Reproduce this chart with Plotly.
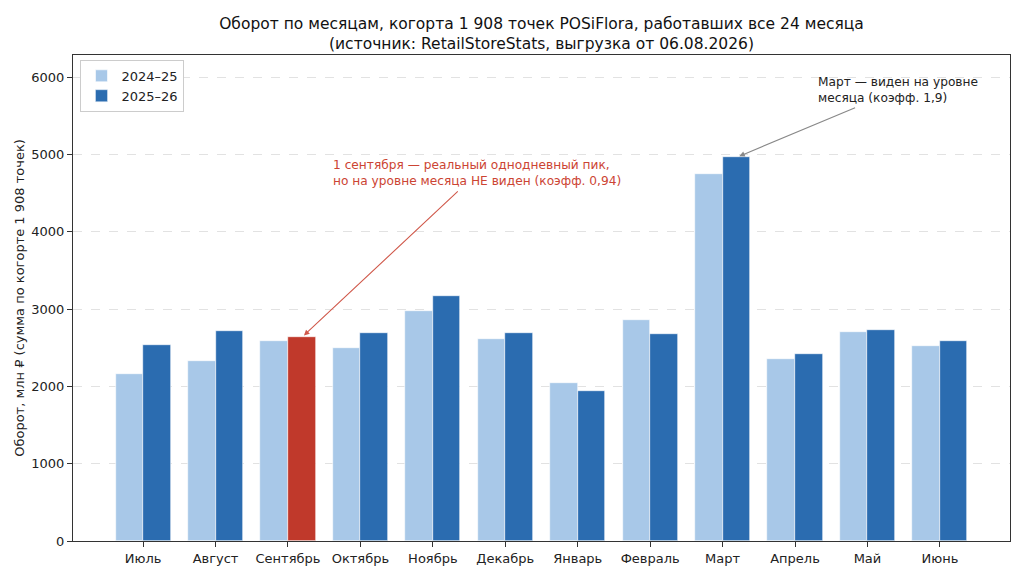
import plotly.graph_objects as go

months = ["Июль", "Август", "Сентябрь", "Октябрь", "Ноябрь", "Декабрь",
          "Январь", "Февраль", "Март", "Апрель", "Май", "Июнь"]
prev_year = [2156, 2329, 2591, 2493, 2975, 2613, 2040, 2863, 4744, 2351, 2700, 2519]
curr_year = [2535, 2721, 2639, 2687, 3165, 2687, 1940, 2674, 4968, 2415, 2726, 2583]
series_names = ["2024–25", "2025–26"]
highlight_month = "Сентябрь"
y_ticks = [0, 1000, 2000, 3000, 4000, 5000, 6000]

LIGHT = "#a8c8e8"
DARK = "#2b6cb0"
RED = "#c0392b"
FONT = "DejaVu Sans"
W = 0.38

idx = list(range(len(months)))
curr_colors = [RED if m == highlight_month else DARK for m in months]

fig = go.Figure()
fig.add_trace(go.Bar(
    x=[i - W / 2 for i in idx], y=prev_year, width=W, name=series_names[0],
    marker=dict(color=LIGHT, line=dict(color="white", width=0.6)),
))
fig.add_trace(go.Bar(
    x=[i + W / 2 for i in idx], y=curr_year, width=W, name=series_names[1],
    marker=dict(color=curr_colors, line=dict(color="white", width=0.6)),
    showlegend=False,
))
fig.add_trace(go.Bar(x=[None], y=[None], name=series_names[1],
                     marker=dict(color=DARK), showlegend=True))

sep = months.index(highlight_month)
mar = months.index("Март")

# Red annotation: arrow + text
fig.add_annotation(x=sep + W / 2 + 0.03, y=curr_year[sep] + 20, ax=4.365, ay=4541,
                   xref="x", yref="y", axref="x", ayref="y", text="",
                   showarrow=True, arrowhead=2, arrowsize=1, arrowwidth=1.1,
                   arrowcolor="#d0584a")
fig.add_annotation(x=2.6, y=4760, xref="x", yref="y", xanchor="left", yanchor="middle",
                   align="left", showarrow=False,
                   text="1 сентября — реальный однодневный пик,<br>но на уровне месяца НЕ виден (коэфф. 0,94)",
                   font=dict(family=FONT, size=12.2, color="#cc4433"))
# Gray annotation
fig.add_annotation(x=mar + W / 2 + 0.04, y=curr_year[mar] + 10, ax=9.85, ay=5614,
                   xref="x", yref="y", axref="x", ayref="y", text="",
                   showarrow=True, arrowhead=2, arrowsize=1, arrowwidth=1.1,
                   arrowcolor="#888888")
fig.add_annotation(x=(817 - 144) / 72.4, y=5840, xref="x", yref="y",
                   xanchor="left", yanchor="middle", align="left", showarrow=False,
                   text="Март — виден на уровне<br>месяца (коэфф. 1,9)",
                   font=dict(family=FONT, size=12.2, color="#222222"))

fig.update_layout(
    width=1024, height=577,
    margin=dict(l=65, r=22, t=47, b=44),
    paper_bgcolor="white", plot_bgcolor="white",
    font=dict(family=FONT, size=13, color="#222222"),
    barmode="overlay", bargap=0,
    title=dict(text="Оборот по месяцам, когорта 1 908 точек POSiFlora, работавших все 24 месяца<br>(источник: RetailStoreStats, выгрузка от 06.08.2026)",
               x=0.5, xref="paper", xanchor="center", y=1 - 21 / 577, yref="container",
               yanchor="middle", font=dict(family=FONT, size=15.5, color="#111111")),
    legend=dict(x=0.008, y=0.99, xanchor="left", yanchor="top",
                bgcolor="white", bordercolor="#cccccc", borderwidth=1,
                font=dict(family=FONT, size=13), tracegroupgap=0,
                itemwidth=30),
    showlegend=True,
)
fig.update_xaxes(range=[-0.968, 11.968], tickmode="array", tickvals=idx, ticktext=months,
                 showgrid=False, zeroline=False, showline=True, linecolor="#333333",
                 linewidth=1, mirror=True, ticks="outside", ticklen=5, tickcolor="#333333",
                 tickfont=dict(family=FONT, size=13, color="#222222"))
fig.update_yaxes(range=[0, 6287], tickmode="array", tickvals=y_ticks,
                 showgrid=True, gridcolor="#e2e2e2", griddash="dash", gridwidth=1,
                 zeroline=False, showline=True, linecolor="#333333", linewidth=1,
                 mirror=True, ticks="outside", ticklen=5, tickcolor="#333333",
                 tickfont=dict(family=FONT, size=13, color="#222222"),
                 title=dict(text="Оборот, млн ₽ (сумма по когорте 1 908 точек)",
                            font=dict(family=FONT, size=13, color="#222222"), standoff=3))

fig.write_html("out.html")
